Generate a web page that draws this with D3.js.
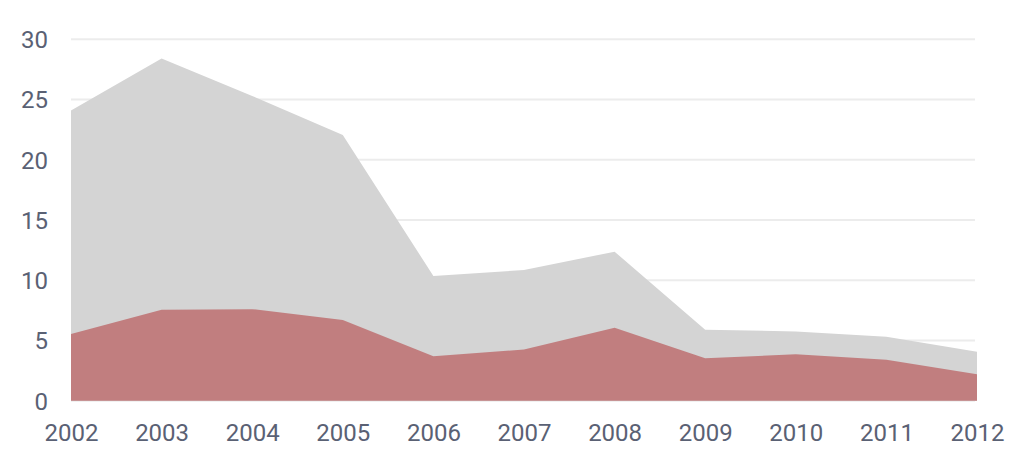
<!DOCTYPE html>
<html>
<head>
<meta charset="utf-8">
<title>Area chart</title>
<style>
  body { margin: 0; background: #fff; }
  .tick text { font-family: Roboto, "Open Sans", sans-serif; font-size: 24px; fill: #5a6174; }
</style>
</head>
<body>
<div id="chart"></div>
<script src="https://d3js.org/d3.v7.min.js"></script>
<script>
// years on the x axis
var years = [2002, 2003, 2004, 2005, 2006, 2007, 2008, 2009, 2010, 2011, 2012];
// grey area: total
var totalValues = [24.1, 28.4, 25.3, 22.05, 10.35, 10.85, 12.37, 5.9, 5.75, 5.3, 4.07];
// red area: part of the total
var redValues = [5.53, 7.55, 7.6, 6.7, 3.7, 4.25, 6.06, 3.52, 3.85, 3.4, 2.2];
var yTicks = [0, 5, 10, 15, 20, 25, 30];

var w = 1024, h = 459;
var padLeft = 71, padRight = 977, padTop = 39.3, padBottom = 400.7;

var svg = d3.select("#chart").append("svg")
  .attr("width", w)
  .attr("height", h);

var x = d3.scaleLinear()
  .domain([years[0], years[years.length - 1]])
  .range([padLeft, padRight]);

var y = d3.scaleLinear()
  .domain([0, 30])
  .range([padBottom, padTop]);

// grid lines
svg.append("g")
  .selectAll("line")
  .data(yTicks)
  .enter()
  .append("line")
  .attr("x1", padLeft)
  .attr("x2", padRight - 2)
  .attr("y1", d => y(d))
  .attr("y2", d => y(d))
  .attr("stroke", "#ececec")
  .attr("stroke-width", 2);

var area = d3.area()
  .x((d, i) => x(years[i]))
  .y0(y(0))
  .y1(d => y(d));

svg.append("path")
  .datum(totalValues)
  .attr("d", area)
  .attr("fill", "#d4d4d4");

svg.append("path")
  .datum(redValues)
  .attr("d", area)
  .attr("fill", "#c17e7f");

// axes, no lines, just labels
var yAxis = d3.axisLeft(y).tickValues(yTicks).tickSize(0).tickPadding(0);
var gy = svg.append("g")
  .attr("transform", "translate(48,0)")
  .call(yAxis);
gy.select(".domain").remove();
gy.selectAll("text").attr("dy", "0.35em");

var xAxis = d3.axisBottom(x).tickValues(years).tickFormat(d3.format("d")).tickSize(0).tickPadding(0);
var gx = svg.append("g")
  .attr("transform", "translate(0,424)")
  .call(xAxis);
gx.select(".domain").remove();
gx.selectAll("text").attr("dy", "0.71em");
</script>
</body>
</html>
